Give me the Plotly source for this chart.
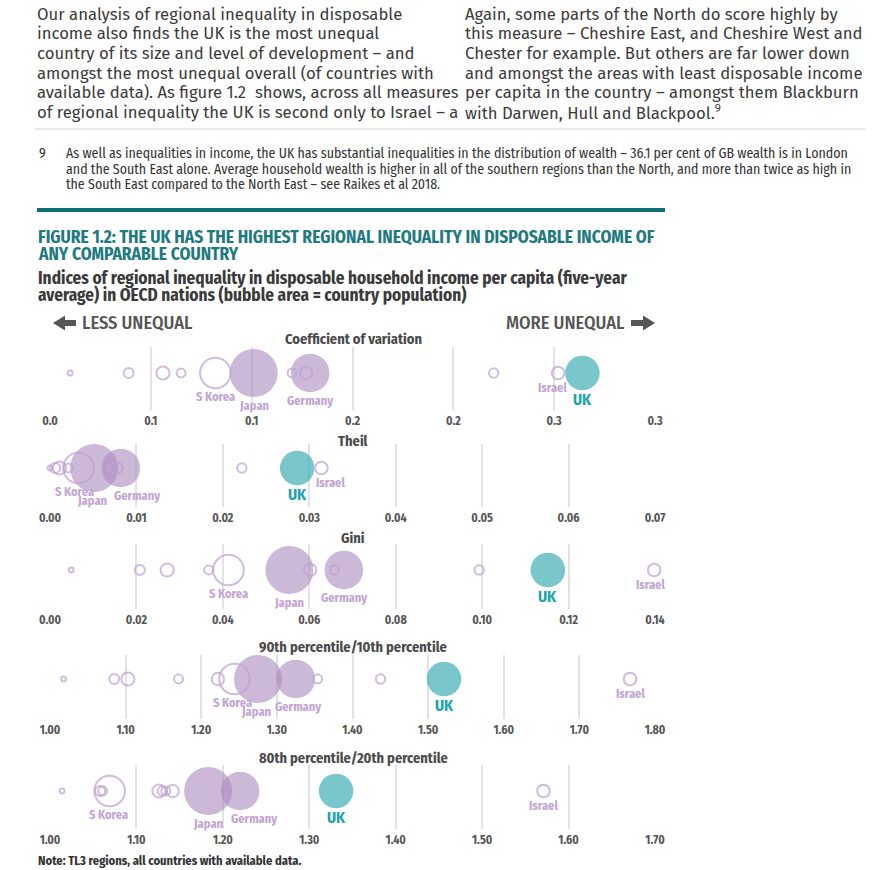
import math
import plotly.graph_objects as go

W, H = 878, 870

# ---------------- data ----------------
countries = ["Other 1", "Other 2", "Other 3", "Other 4", "Other 5", "Other 6", "Other 7",
             "S Korea", "Japan", "Germany", "Israel", "UK"]
population_m = [1.3, 5.4, 9.5, 4.4, 4.3, 8.5, 4.8, 51.5, 127.0, 82.0, 8.7, 66.0]
shown_labels = ["", "", "", "", "", "", "", "S Korea", "Japan", "Germany", "Israel", "UK"]

cv_values = [0.010, 0.039, 0.056, 0.065, 0.120, 0.127, 0.220, 0.082, 0.101, 0.129, 0.252, 0.264]
theil_values = [0.0000, 0.0006, 0.0011, 0.0021, 0.0072, 0.0077, 0.0222, 0.0033, 0.0051, 0.0082, 0.0314, 0.0286]
gini_values = [0.0049, 0.0208, 0.0271, 0.0367, 0.0658, 0.0602, 0.0993, 0.0413, 0.0554, 0.0680, 0.1398, 0.1152]
p90_10_values = [1.018, 1.085, 1.103, 1.170, 1.354, 1.222, 1.437, 1.244, 1.275, 1.325, 1.767, 1.521]
p80_20_values = [1.014, 1.058, 1.126, 1.134, 1.061, 1.142, 1.130, 1.069, 1.183, 1.220, 1.571, 1.331]

measure_titles = ["Coefficient of variation", "Theil", "Gini",
                  "90th percentile/10th percentile", "80th percentile/20th percentile"]

cv_ticks = [0.0, 0.05, 0.10, 0.15, 0.20, 0.25, 0.30]
cv_ticktext = ["0.0", "0.1", "0.1", "0.2", "0.2", "0.3", "0.3"]
theil_ticks = [0.00, 0.01, 0.02, 0.03, 0.04, 0.05, 0.06, 0.07]
theil_ticktext = ["0.00", "0.01", "0.02", "0.03", "0.04", "0.05", "0.06", "0.07"]
gini_ticks = [0.00, 0.02, 0.04, 0.06, 0.08, 0.10, 0.12, 0.14]
gini_ticktext = ["0.00", "0.02", "0.04", "0.06", "0.08", "0.10", "0.12", "0.14"]
p90_ticks = [1.0, 1.1, 1.2, 1.3, 1.4, 1.5, 1.6, 1.7, 1.8]
p90_ticktext = ["1.00", "1.10", "1.20", "1.30", "1.40", "1.50", "1.60", "1.70", "1.80"]
p80_ticks = [1.0, 1.1, 1.2, 1.3, 1.4, 1.5, 1.6, 1.7]
p80_ticktext = ["1.00", "1.10", "1.20", "1.30", "1.40", "1.50", "1.60", "1.70"]

left_para = [
    "Our analysis of regional inequality in disposable",
    "income also finds the UK is the most unequal",
    "country of its size and level of development – and",
    "amongst the most unequal overall (of countries with",
    "available data). As figure 1.2  shows, across all measures",
    "of regional inequality the UK is second only to Israel – a",
]
right_para = [
    "Again, some parts of the North do score highly by",
    "this measure – Cheshire East, and Cheshire West and",
    "Chester for example. But others are far lower down",
    "and amongst the areas with least disposable income",
    "per capita in the country – amongst them Blackburn",
    "with Darwen, Hull and Blackpool.<sup>9</sup>",
]
footnote_lines = [
    "As well as inequalities in income, the UK has substantial inequalities in the distribution of wealth – 36.1 per cent of GB wealth is in London",
    "and the South East alone. Average household wealth is higher in all of the southern regions than the North, and more than twice as high in",
    "the South East compared to the North East – see Raikes et al 2018.",
]
title_lines = ["FIGURE 1.2: THE UK HAS THE HIGHEST REGIONAL INEQUALITY IN DISPOSABLE INCOME OF",
               "ANY COMPARABLE COUNTRY"]
subtitle_lines = ["Indices of regional inequality in disposable household income per capita (five-year",
                  "average) in OECD nations (bubble area = country population)"]
note_text = "Note: TL3 regions, all countries with available data."

# ---------------- styling ----------------
BODY = "Fira Sans, Roboto, Open Sans, sans-serif"
COND = "Fira Sans Condensed, Roboto, sans-serif"
PURPLE_FILL = "rgba(170,137,190,0.85)"
PURPLE_LINE = "rgb(190,160,210)"
PURPLE_TEXT = "rgb(194,164,212)"
TEAL_FILL = "rgb(64,174,181)"
TEAL_TEXT = "rgb(33,163,173)"
GRID = "#e2e2e2"
TICK = "#555555"
K = 2.13  # px radius per sqrt(million people)
SIZEREF = 1.0 / (2 * K * K)

rows = [
    dict(values=cv_values, ticks=cv_ticks, ticktext=cv_ticktext, top=347, bottom=410, bubble=373, title_y=339,
         dx={"Israel": -6}),
    dict(values=theil_values, ticks=theil_ticks, ticktext=theil_ticktext, top=444, bottom=507, bubble=468, title_y=441,
         dx={"S Korea": -4, "Japan": -2, "Germany": 16, "Israel": 9}),
    dict(values=gini_values, ticks=gini_ticks, ticktext=gini_ticktext, top=544, bottom=609, bubble=570, title_y=538,
         dx={"Israel": -4}),
    dict(values=p90_10_values, ticks=p90_ticks, ticktext=p90_ticktext, top=655, bottom=719, bubble=679, title_y=647,
         dx={"S Korea": -2, "Japan": -2, "Germany": 2}),
    dict(values=p80_20_values, ticks=p80_ticks, ticktext=p80_ticktext, top=765, bottom=829, bubble=791, title_y=758,
         dx={"S Korea": -1, "Germany": 14}),
]

filled = {"Japan", "Germany", "UK"}

fig = go.Figure()
layout = dict(width=W, height=H, margin=dict(l=0, r=0, t=0, b=0, pad=0, autoexpand=False),
              paper_bgcolor="white", plot_bgcolor="rgba(0,0,0,0)", showlegend=False)
annotations = []
shapes = []


def px(x):
    return x / W


def py(y):
    return 1 - y / H


X0, X1 = 50, 655

for i, row in enumerate(rows, start=1):
    xs = "" if i == 1 else str(i)
    vals = row["values"]
    idx_f = [j for j, c in enumerate(countries) if c in filled]
    idx_h = [j for j, c in enumerate(countries) if c not in filled]
    fig.add_trace(go.Scatter(
        x=[vals[j] for j in idx_f], y=[0] * len(idx_f), mode="markers",
        xaxis="x" + xs, yaxis="y" + xs, cliponaxis=False, hoverinfo="text",
        text=[countries[j] for j in idx_f],
        marker=dict(size=[population_m[j] for j in idx_f], sizemode="area", sizeref=SIZEREF,
                    color=[TEAL_FILL if countries[j] == "UK" else PURPLE_FILL for j in idx_f],
                    line=dict(width=0))))
    fig.add_trace(go.Scatter(
        x=[vals[j] for j in idx_h], y=[0] * len(idx_h), mode="markers",
        xaxis="x" + xs, yaxis="y" + xs, cliponaxis=False, hoverinfo="text",
        text=[countries[j] for j in idx_h],
        marker=dict(size=[population_m[j] for j in idx_h], sizemode="area", sizeref=SIZEREF,
                    color="rgba(0,0,0,0)", line=dict(width=2, color=PURPLE_LINE))))

    ticks = row["ticks"]
    layout["xaxis" + xs] = dict(
        domain=[px(X0), px(X1)], range=[ticks[0], ticks[-1]], anchor="y" + xs,
        tickmode="array", tickvals=ticks, ticktext=row["ticktext"], automargin=False,
        showgrid=True, gridcolor=GRID, gridwidth=2, zeroline=False, showline=False, ticks="",
        ticklabelstandoff=2,
        tickfont=dict(family=COND, size=12, color=TICK, weight="bold"), fixedrange=True)
    layout["yaxis" + xs] = dict(
        domain=[py(row["bottom"]), py(row["top"])],
        range=[-(row["bottom"] - row["bubble"]), row["bubble"] - row["top"]], automargin=False,
        anchor="x" + xs, visible=False, showgrid=False, zeroline=False, fixedrange=True)

    annotations.append(dict(xref="paper", yref="paper", x=px(353), y=py(row["title_y"]),
                            text="<b>%s</b>" % measure_titles[i - 1], showarrow=False,
                            xanchor="center", yanchor="middle",
                            font=dict(family=COND, size=14.4, color="#4a4a4a")))
    for j, lab in enumerate(shown_labels):
        if not lab:
            continue
        r = K * math.sqrt(population_m[j])
        is_uk = lab == "UK"
        annotations.append(dict(
            xref="x" + xs, yref="y" + xs, x=vals[j], y=0, text="<b>%s</b>" % lab, showarrow=False,
            xanchor="center", yanchor="middle", xshift=row["dx"].get(lab, 0),
            yshift=-(r + (10 if is_uk else 8)),
            font=dict(family=COND, size=15.5 if is_uk else 12.4, color=TEAL_TEXT if is_uk else PURPLE_TEXT)))

# ---------------- page text ----------------
para_y = [14, 33.5, 53, 72.5, 92, 111.5]
for k, line in enumerate(left_para):
    annotations.append(dict(xref="paper", yref="paper", x=px(35), y=py(para_y[k]), text=line,
                            showarrow=False, xanchor="left", yanchor="middle",
                            font=dict(family=BODY, size=16.7, color="#3a3a3a")))
for k, line in enumerate(right_para):
    annotations.append(dict(xref="paper", yref="paper", x=px(463), y=py(para_y[k]), text=line,
                            showarrow=False, xanchor="left", yanchor="middle",
                            font=dict(family=BODY, size=16.7, color="#3a3a3a")))

foot_y = [153, 169, 184]
annotations.append(dict(xref="paper", yref="paper", x=px(37), y=py(foot_y[0]), text="9",
                        showarrow=False, xanchor="left", yanchor="middle",
                        font=dict(family=COND, size=13.9, color="#333333")))
for k, line in enumerate(footnote_lines):
    annotations.append(dict(xref="paper", yref="paper", x=px(64), y=py(foot_y[k]), text=line,
                            showarrow=False, xanchor="left", yanchor="middle",
                            font=dict(family=COND, size=13.9, color="#333333")))

for k, line in enumerate(title_lines):
    annotations.append(dict(xref="paper", yref="paper", x=px(36), y=py([237, 254][k]), text="<b>%s</b>" % line,
                            showarrow=False, xanchor="left", yanchor="middle",
                            font=dict(family=COND, size=17.4, color="#1f7a7f")))
for k, line in enumerate(subtitle_lines):
    annotations.append(dict(xref="paper", yref="paper", x=px(36), y=py([278, 296][k]), text="<b>%s</b>" % line,
                            showarrow=False, xanchor="left", yanchor="middle",
                            font=dict(family=COND, size=17.2, color="#3a3a3a")))

annotations.append(dict(xref="paper", yref="paper", x=px(80), y=py(323), text="LESS UNEQUAL",
                        showarrow=False, xanchor="left", yanchor="middle",
                        font=dict(family=COND, size=18.4, color="#555555", weight=500)))
annotations.append(dict(xref="paper", yref="paper", x=px(627), y=py(323), text="MORE UNEQUAL",
                        showarrow=False, xanchor="right", yanchor="middle",
                        font=dict(family=COND, size=18.4, color="#555555", weight=500)))
annotations.append(dict(xref="paper", yref="paper", x=px(36), y=py(860), text="<b>%s</b>" % note_text,
                        showarrow=False, xanchor="left", yanchor="middle",
                        font=dict(family=COND, size=12.5, color="#333333")))


def path(points):
    return "M " + " L ".join("%.5f,%.5f" % (px(a), py(b)) for a, b in points) + " Z"


shapes.append(dict(type="path", xref="paper", yref="paper", line=dict(width=0), fillcolor="#555555",
                   path=path([(53, 323), (65, 315.5), (65, 320), (76, 320), (76, 326), (65, 326), (65, 330.5)])))
shapes.append(dict(type="path", xref="paper", yref="paper", line=dict(width=0), fillcolor="#555555",
                   path=path([(655, 323), (643, 315.5), (643, 320), (631, 320), (631, 326), (643, 326), (643, 330.5)])))
shapes.append(dict(type="line", xref="paper", yref="paper", x0=px(35), x1=px(866), y0=py(129), y1=py(129),
                   line=dict(color="#d4d4d4", width=1)))
shapes.append(dict(type="rect", xref="paper", yref="paper", x0=px(37), x1=px(665), y0=py(212), y1=py(208),
                   line=dict(width=0), fillcolor="#0d6f73"))

layout["annotations"] = annotations
layout["shapes"] = shapes
fig.update_layout(**layout)

fig.write_html("out.html", config={"displayModeBar": False},
               post_script="document.body.style.margin='0';document.body.style.overflow='hidden';")
